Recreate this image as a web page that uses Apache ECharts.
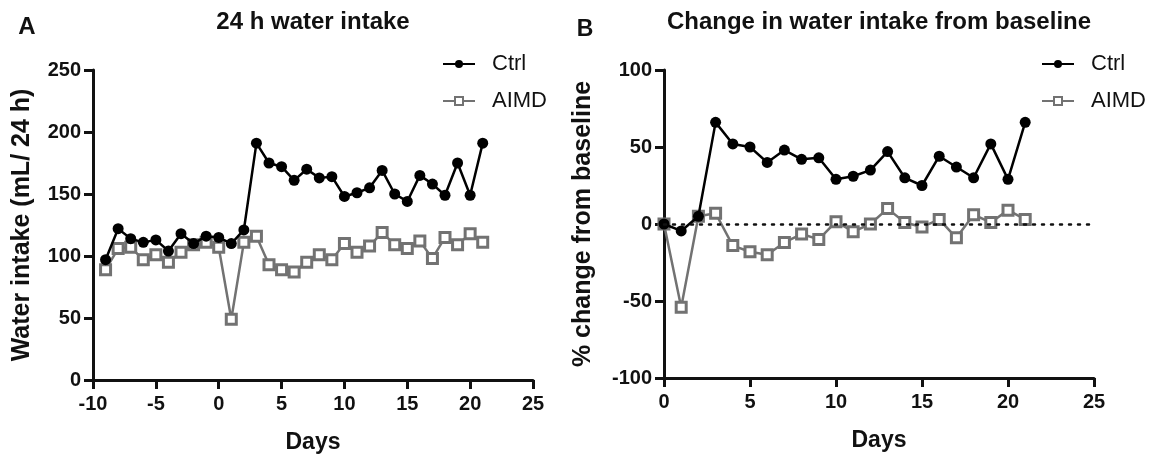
<!DOCTYPE html>
<html>
<head>
<meta charset="utf-8">
<script src="https://cdn.jsdelivr.net/npm/echarts@6/dist/echarts.min.js"></script>
<style>
    html, body { margin: 0; padding: 0; background: #fff; }
    #main { width: 1154px; height: 462px; }
</style>
</head>
<body>
<div id="main"></div>
<script>
// 数据 A: 24 h 饮水量
var daysA = [-9, -8, -7, -6, -5, -4, -3, -2, -1, 0, 1, 2, 3, 4, 5, 6, 7, 8, 9, 10, 11, 12, 13, 14, 15, 16, 17, 18, 19, 20, 21];
var ctrlA = [97, 122, 114, 111, 113, 104, 118, 110, 116, 115, 110, 121, 191, 175, 172, 161, 170, 163, 164, 148, 151, 155, 169, 150, 144, 165, 158, 149, 175, 149, 191];
var aimdA = [89, 106, 107, 97, 101, 95, 103, 109, 111, 107, 49, 111, 116, 93, 89, 87, 95, 101, 97, 110, 103, 108, 119, 109, 106, 112, 98, 115, 109, 118, 111];

// 数据 B: 相对基线的变化 (%)
var daysB = [0, 1, 2, 3, 4, 5, 6, 7, 8, 9, 10, 11, 12, 13, 14, 15, 16, 17, 18, 19, 20, 21];
var ctrlB = [0, -4.5, 5, 66, 52, 50, 40, 48, 42, 43, 29, 31, 35, 47, 30, 25, 44, 37, 30, 52, 29, 66];
var aimdB = [0, -54, 5, 7, -14, -18, -20, -12, -6.5, -10, 1.5, -5, 0, 10, 1, -2, 3, -9, 6, 1, 9, 3];

var ticksA = [-10, 25, 5];
var ticksB = [0, 25, 5];

var FONT = 'Liberation Sans, Arial, sans-serif';
var GRAY = '#727272';

function pairs(xs, ys) {
    return xs.map(function (x, i) { return [x, ys[i]]; });
}

function xAxis(idx, range) {
    return {
        type: 'value',
        gridIndex: idx,
        min: range[0],
        max: range[1],
        interval: range[2],
        name: 'Days',
        nameLocation: 'middle',
        nameGap: 51,
        nameTextStyle: { fontFamily: FONT, fontSize: 23, fontWeight: 'bold', color: '#111' },
        axisLine: { onZero: false, lineStyle: { color: '#111', width: 3 } },
        axisTick: { length: 9, lineStyle: { color: '#111', width: 3 } },
        axisLabel: { margin: 14, fontFamily: FONT, fontSize: 20, fontWeight: 'bold', color: '#111' },
        splitLine: { show: false }
    };
}

function yAxis(idx, min, max, name, gap) {
    return {
        type: 'value',
        gridIndex: idx,
        min: min,
        max: max,
        interval: 50,
        name: name,
        nameLocation: 'middle',
        nameGap: gap,
        nameTextStyle: { fontFamily: FONT, fontSize: 25, fontWeight: 'bold', color: '#111' },
        axisLine: { show: true, onZero: false, lineStyle: { color: '#111', width: 3 } },
        axisTick: { show: true, length: 9, lineStyle: { color: '#111', width: 3 } },
        axisLabel: { margin: 12, fontFamily: FONT, fontSize: 20, fontWeight: 'bold', color: '#111' },
        splitLine: { show: false }
    };
}

function ctrlSeries(idx, data) {
    return {
        name: 'Ctrl',
        type: 'line',
        xAxisIndex: idx,
        yAxisIndex: idx,
        data: data,
        symbol: 'circle',
        symbolSize: 11,
        lineStyle: { color: '#000', width: 2.5 },
        itemStyle: { color: '#000' },
        z: 3
    };
}

function aimdSeries(idx, data) {
    return {
        name: 'AIMD',
        type: 'line',
        xAxisIndex: idx,
        yAxisIndex: idx,
        data: data,
        symbol: 'rect',
        symbolSize: 10,
        lineStyle: { color: GRAY, width: 2.5 },
        itemStyle: { color: '#fff', borderColor: GRAY, borderWidth: 3 },
        z: 2
    };
}

function legend(left) {
    return {
        orient: 'vertical',
        left: left,
        top: 48,
        itemGap: 15,
        itemWidth: 32,
        itemHeight: 10,
        data: ['Ctrl', 'AIMD'],
        textStyle: { fontFamily: FONT, fontSize: 22, color: '#111', padding: [0, 0, 0, 12] }
    };
}

function label(text, x, y, size) {
    return {
        type: 'text',
        x: x,
        y: y,
        style: {
            text: text,
            align: 'center',
            verticalAlign: 'middle',
            font: 'bold ' + size + 'px ' + FONT,
            fill: '#111'
        }
    };
}

var myChart = echarts.init(document.getElementById('main'));

var aimdBSeries = aimdSeries(1, pairs(daysB, aimdB));
// 基线 0 处的点线
aimdBSeries.markLine = {
    silent: true,
    symbol: 'none',
    label: { show: false },
    lineStyle: { color: '#111', width: 2.5, type: [2, 7], cap: 'round' },
    data: [{ yAxis: 0 }]
};

myChart.setOption({
    animation: false,
    graphic: [
        label('A', 27, 27, 24),
        label('B', 585, 30, 23),
        label('24 h water intake', 313, 22, 24),
        label('Change in water intake from baseline', 879, 22, 24)
    ],
    legend: [legend(437), legend(1036)],
    grid: [
        { left: 93, top: 70, width: 440, height: 310 },
        { left: 664, top: 70, width: 430, height: 308 }
    ],
    xAxis: [xAxis(0, ticksA), xAxis(1, ticksB)],
    yAxis: [
        yAxis(0, 0, 250, 'Water intake (mL/ 24 h)', 58),
        yAxis(1, -100, 100, '% change from baseline', 68)
    ],
    series: [
        ctrlSeries(0, pairs(daysA, ctrlA)),
        aimdSeries(0, pairs(daysA, aimdA)),
        ctrlSeries(1, pairs(daysB, ctrlB)),
        aimdBSeries
    ]
});
</script>
</body>
</html>
